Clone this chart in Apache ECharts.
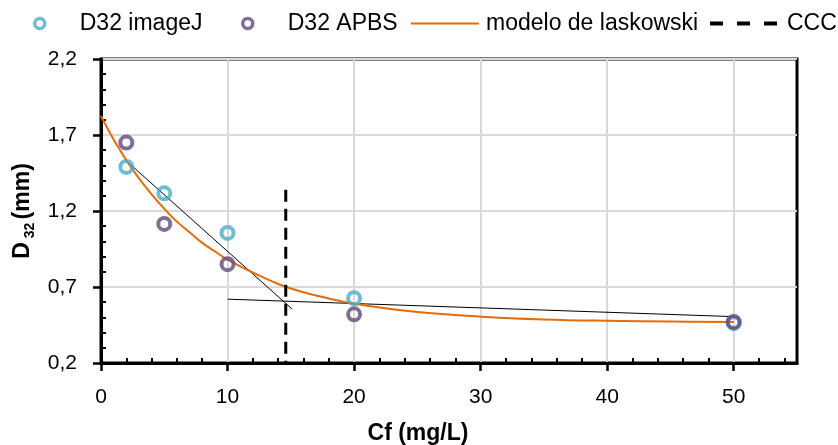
<!DOCTYPE html>
<html>
<head>
<meta charset="utf-8">
<script src="https://cdn.jsdelivr.net/npm/echarts@6/dist/echarts.min.js"></script>
<style>html,body{margin:0;padding:0;background:#fff}#c{width:838px;height:445px}</style>
</head>
<body>
<div id="c"></div>
<script>
// ---- data ----
const imageJ = [[2, 1.49], [5, 1.316], [10, 1.056], [20, 0.626], [50, 0.462]];
const apbs = [[2, 1.65], [5, 1.115], [10, 0.85], [20, 0.52], [50, 0.47]];
const curveX = [0, 1, 2, 3, 4, 5, 6, 7, 8, 9, 10, 12, 14, 16, 18, 20, 25, 30, 35, 40, 45, 50];
const curveY = [1.825, 1.67, 1.535, 1.415, 1.31, 1.215, 1.13, 1.06, 0.99, 0.935, 0.88, 0.795, 0.72, 0.665, 0.625, 0.59, 0.535, 0.505, 0.487, 0.478, 0.473, 0.47];
const trendSteep = [[2, 1.53], [15.1, 0.555]];
const trendFlat = [[10, 0.62], [50, 0.505]];
const cccLine = [[14.6, 1.34], [14.6, 0.2]];

const xTickValues = [0, 10, 20, 30, 40, 50];
const xTickLabels = ['0', '10', '20', '30', '40', '50'];
const xMinorTicks = [2, 4, 6, 8, 12, 14, 16, 18, 22, 24, 26, 28, 32, 34, 36, 38, 42, 44, 46, 48, 52, 54];
const yTickValues = [0.2, 0.7, 1.2, 1.7, 2.2];
const yTickLabels = ['0,2', '0,7', '1,2', '1,7', '2,2'];
const yMinorTicks = [0.3, 0.4, 0.5, 0.6, 0.8, 0.9, 1.0, 1.1, 1.3, 1.4, 1.5, 1.6, 1.8, 1.9, 2.0, 2.1];

const FONT = "'Liberation Sans', Arial, sans-serif";
const CYAN = '#4bacc6';
const PURPLE = '#604a7b';
const ORANGE = '#e46c0a';

function lookup(vals, labels, v) {
  for (let i = 0; i < vals.length; i++) if (Math.abs(vals[i] - v) < 1e-6) return labels[i];
  return '';
}

const curve = curveX.map((x, i) => [x, curveY[i]]);

const chart = echarts.init(document.getElementById('c'), null, {renderer: 'canvas'});
const legendText = {fontFamily: FONT, fontSize: 23, color: '#000'};
chart.setOption({
  animation: false,
  backgroundColor: '#fff',
  legend: [
    {data: ['D32 imageJ'], left: 33, top: 12, padding: 0, itemWidth: 50, itemHeight: 10,
     itemStyle: {borderWidth: 3.5}, textStyle: Object.assign({padding: [0, 0, 0, 10]}, legendText), selectedMode: false},
    {data: ['D32 APBS'], left: 241, top: 12, padding: 0, itemWidth: 50, itemHeight: 10,
     itemStyle: {borderWidth: 3.5}, textStyle: Object.assign({padding: [0, 0, 0, 10]}, legendText), selectedMode: false},
    {data: ['modelo de laskowski'], left: 410, top: 12, padding: 0, itemWidth: 68, itemHeight: 14,
     itemStyle: {opacity: 0}, lineStyle: {width: 2},
     textStyle: Object.assign({padding: [0, 0, 0, 2]}, legendText), selectedMode: false},
    {data: ['CCC'], left: 708, top: 12, padding: 0, itemWidth: 72, itemHeight: 14,
     itemStyle: {opacity: 0}, lineStyle: {type: [13, 14], width: 4}, textStyle: legendText, selectedMode: false}
  ],
  grid: {left: 101, right: 41, top: 59, bottom: 82, show: true, borderColor: '#000', borderWidth: 3,
         containLabel: false, outerBoundsMode: 'none'},
  xAxis: [
    {type: 'value', min: 0, max: 55, interval: 10, position: 'bottom',
     axisLine: {lineStyle: {color: '#000', width: 3}},
     axisTick: {show: true, inside: false, length: 8, lineStyle: {color: '#000', width: 2.5}, customValues: xTickValues},
     axisLabel: {fontFamily: FONT, fontSize: 21, color: '#000', margin: 24, showMaxLabel: false,
       formatter: v => lookup(xTickValues, xTickLabels, v)},
     splitLine: {show: true, lineStyle: {color: '#d9d9d9', width: 2}},
     name: 'Cf (mg/L)', nameLocation: 'middle', nameGap: 59,
     nameTextStyle: {fontFamily: FONT, fontSize: 23, fontWeight: 'bold', color: '#000', padding: [0, 62, 0, 0]}},
    {type: 'value', min: 0, max: 55, position: 'bottom',
     axisLine: {show: false},
     axisTick: {show: true, inside: true, length: 5, lineStyle: {color: '#000', width: 2}, customValues: xMinorTicks},
     axisLabel: {show: false}, splitLine: {show: false}}
  ],
  yAxis: [
    {type: 'value', min: 0.2, max: 2.2, interval: 0.5, position: 'left',
     axisLine: {show: true, lineStyle: {color: '#000', width: 3}},
     axisTick: {show: true, inside: false, length: 8, lineStyle: {color: '#000', width: 2.5}},
     axisLabel: {fontFamily: FONT, fontSize: 21, color: '#000', margin: 24,
       formatter: v => lookup(yTickValues, yTickLabels, v)},
     splitLine: {show: true, lineStyle: {color: '#d9d9d9', width: 2}},
     name: '{b|D}{s| 32} {b|(mm)}', nameLocation: 'middle', nameRotate: 90, nameGap: 64,
     nameTextStyle: {rich: {
       b: {fontFamily: FONT, fontSize: 23, fontWeight: 'bold', color: '#000', lineHeight: 28},
       s: {fontFamily: FONT, fontSize: 14, fontWeight: 'bold', color: '#000', lineHeight: 17, verticalAlign: 'bottom'}
     }}},
    {type: 'value', min: 0.2, max: 2.2, position: 'left',
     axisLine: {show: false},
     axisTick: {show: true, inside: true, length: 5, lineStyle: {color: '#000', width: 2}, customValues: yMinorTicks},
     axisLabel: {show: false}, splitLine: {show: false}}
  ],
  series: [
    {name: 'trendSteep', type: 'line', data: trendSteep, showSymbol: false, symbol: 'none',
     lineStyle: {color: '#000', width: 1}, z: 2},
    {name: 'trendFlat', type: 'line', data: trendFlat, showSymbol: false, symbol: 'none',
     lineStyle: {color: '#000', width: 1}, z: 2},
    {name: 'modelo de laskowski', type: 'line', data: curve, smooth: 0.4,
     showSymbol: false, symbol: 'none', color: ORANGE, lineStyle: {color: ORANGE, width: 2}, z: 3},
    {name: 'CCC', type: 'line', data: cccLine, showSymbol: false, symbol: 'none', color: '#000',
     lineStyle: {color: '#000', width: 3, type: [12, 7]}, z: 3},
    {name: 'D32 imageJ', type: 'scatter', data: imageJ, symbol: 'circle', symbolSize: 12,
     itemStyle: {color: 'rgba(255,255,255,0)', borderColor: CYAN, borderWidth: 4}, z: 4},
    {name: 'D32 APBS', type: 'scatter', data: apbs, symbol: 'circle', symbolSize: 12,
     itemStyle: {color: 'rgba(255,255,255,0)', borderColor: PURPLE, borderWidth: 4}, z: 5}
  ]
});
</script>
</body>
</html>
